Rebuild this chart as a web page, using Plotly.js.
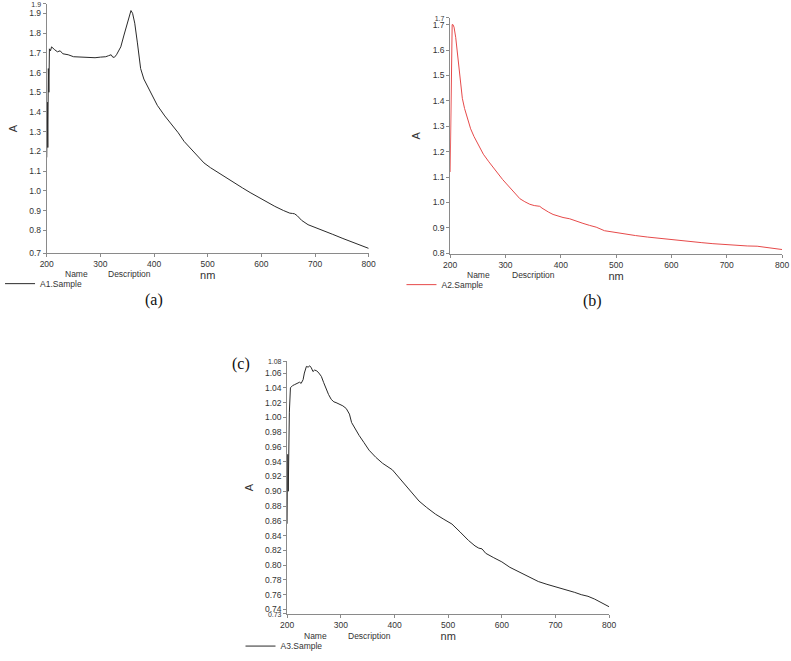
<!DOCTYPE html>
<html>
<head>
<meta charset="utf-8">
<script src="https://cdn.plot.ly/plotly-3.0.1.min.js"></script>
<style>html,body{margin:0;padding:0;background:#fff}#chart{width:791px;height:661px}</style>
</head>
<body>
<div id="chart"></div>
<script>
// ---- Data ----
const xTicks = [200, 300, 400, 500, 600, 700, 800];

// (a) A1.Sample
const aNm = [200,201,202,203,204,205,207,209,212,215,220,225,230,240,250,260,270,280,290,300,310,315,320,323,326,330,335,338,344,350,354,357,360,364,369,372,375,381,394,406,420,431,445,456,465,474,483,493,505,517,530,548,565,579,595,610,625,641,653,658,662,667,675,687,700,715,733,752,770,785,800];
const aAbs = [1.17,1.45,1.22,1.62,1.50,1.72,1.71,1.73,1.72,1.715,1.705,1.71,1.695,1.69,1.68,1.678,1.677,1.676,1.675,1.678,1.680,1.685,1.69,1.678,1.677,1.69,1.72,1.73,1.79,1.85,1.89,1.914,1.90,1.85,1.75,1.67,1.62,1.567,1.50,1.434,1.38,1.343,1.295,1.251,1.225,1.20,1.17,1.142,1.118,1.097,1.073,1.042,1.015,0.992,0.967,0.946,0.922,0.901,0.8875,0.886,0.884,0.874,0.851,0.829,0.816,0.801,0.78,0.759,0.739,0.724,0.709];
const aTickVals = [0.685,0.8,0.9,1.0,1.1,1.2,1.3,1.4,1.5,1.6,1.7,1.8,1.9,1.9475];
const aTickText = ['0.7','0.8','0.9','1.0','1.1','1.2','1.3','1.4','1.5','1.6','1.7','1.8','1.9','1.9'];

// (b) A2.Sample
const bNm = [200,201,202,203,203.6,205,207,210,213,217,222,226,231,237,243,250,260,270,284,295,302,315,326,335,344,352,358,362,366,371,378,386,395,404,416,428,440,452,464,479,497,515,535,557,577,597,616,635,655,675,694,715,737,755,766,780,790,800];
const bAbs = [1.12,1.37,1.30,1.60,1.70,1.70,1.69,1.65,1.59,1.50,1.41,1.37,1.33,1.29,1.26,1.23,1.19,1.16,1.119,1.09,1.073,1.04,1.015,1.003,0.993,0.988,0.987,0.985,0.978,0.970,0.962,0.953,0.946,0.941,0.936,0.926,0.918,0.910,0.903,0.889,0.882,0.877,0.870,0.864,0.859,0.854,0.849,0.846,0.842,0.838,0.8345,0.831,0.829,0.828,0.825,0.821,0.818,0.815];
const bTickVals = [0.8,0.9,1.0,1.1,1.2,1.3,1.4,1.5,1.6,1.7,1.727];
const bTickText = ['0.8','0.9','1.0','1.1','1.2','1.3','1.4','1.5','1.6','1.7','1.7'];

// (c) A3.Sample
const cNm = [200,201,202,203,204,206,210,214,218,223,226,229.6,232,235.8,239,242,245,248,251,255,259,263.6,268,272.8,277,282,287,291,297,303.7,310,316,320,327,334,343,352.5,365,377.8,396,414.8,430,445.7,460,476.5,492,507,522,538,550,557,563,570,585,600,615,631,650,668,684,698.7,717,735.8,748,760.5,773,785,793,800];
const cAbs = [0.856,0.95,0.90,0.99,1.007,1.04,1.043,1.0444,1.046,1.0476,1.046,1.051,1.060,1.069,1.068,1.0698,1.067,1.062,1.064,1.063,1.060,1.0555,1.047,1.0378,1.031,1.0244,1.021,1.020,1.018,1.0156,1.012,1.0044,0.993,0.984,0.9756,0.966,0.9556,0.946,0.9378,0.929,0.9133,0.900,0.8867,0.878,0.8689,0.862,0.8556,0.845,0.8333,0.826,0.823,0.822,0.816,0.810,0.8044,0.797,0.7911,0.784,0.7778,0.774,0.7711,0.767,0.7631,0.760,0.7578,0.754,0.7489,0.746,0.7436];
const cTickVals = [0.734,0.74,0.76,0.78,0.80,0.82,0.84,0.86,0.88,0.90,0.92,0.94,0.96,0.98,1.00,1.02,1.04,1.06,1.0757];
const cTickText = ['0.73','0.74','0.76','0.78','0.80','0.82','0.84','0.86','0.88','0.90','0.92','0.94','0.96','0.98','1.00','1.02','1.04','1.06','1.08'];

// ---- Layout helpers ----
const W = 791, H = 661;
const px = v => v / W;
const py = v => 1 - v / H;
const FONT = 'Liberation Sans, Arial, sans-serif';
const tickFont = {family: FONT, size: 8.5, color: '#333'};
// the extra range-end labels of the instrument plots are drawn a little smaller
const small = t => '<span style="font-size:7px">' + t + '</span>';

function xAx(l, r, anchor) {
  return {domain: [px(l), px(r)], range: [200, 800], anchor: anchor,
    tickmode: 'array', tickvals: xTicks, ticktext: xTicks.map(String),
    showline: true, linecolor: '#8a8a8a', linewidth: 1, ticks: 'outside', ticklen: 3,
    tickcolor: '#8a8a8a', showgrid: false, zeroline: false, tickfont: tickFont,
    title: {text: 'nm', font: {family: FONT, size: 11, color: '#333'}, standoff: 0}};
}
function yAx(top, bot, range, vals, text, anchor, smallIdx) {
  const tt = text.map((t, i) => smallIdx.includes(i) ? small(t) : t);
  return {domain: [py(bot), py(top)], range: range, anchor: anchor,
    tickmode: 'array', tickvals: vals, ticktext: tt,
    showline: true, linecolor: '#8a8a8a', linewidth: 1, ticks: 'outside', ticklen: 3,
    tickcolor: '#8a8a8a', showgrid: false, zeroline: false, tickfont: tickFont,
    title: {text: 'A', font: {family: FONT, size: 11, color: '#333'}, standoff: 9}};
}

const traces = [
  {x: aNm, y: aAbs, type: 'scatter', mode: 'lines', name: 'A1.Sample', xaxis: 'x', yaxis: 'y',
   line: {color: '#2a2a2a', width: 1}, legend: 'legend'},
  {x: bNm, y: bAbs, type: 'scatter', mode: 'lines', name: 'A2.Sample', xaxis: 'x2', yaxis: 'y2',
   line: {color: '#e64a4a', width: 1}, legend: 'legend2'},
  {x: cNm, y: cAbs, type: 'scatter', mode: 'lines', name: 'A3.Sample', xaxis: 'x3', yaxis: 'y3',
   line: {color: '#2a2a2a', width: 1}, legend: 'legend3'}
];

function leg(x, y) {
  return {x: px(x), y: py(y), xanchor: 'left', yanchor: 'middle', bgcolor: 'rgba(0,0,0,0)',
    font: {family: FONT, size: 8.5, color: '#333'}, itemwidth: 30, tracegroupgap: 0};
}
function hdr(x, y, t) {
  return {xref: 'paper', yref: 'paper', x: px(x), y: py(y), xanchor: 'left', yanchor: 'middle',
    text: t, showarrow: false, font: {family: FONT, size: 8.5, color: '#333'}};
}
function panel(x, y, t) {
  return {xref: 'paper', yref: 'paper', x: px(x), y: py(y), xanchor: 'center', yanchor: 'middle',
    text: t, showarrow: false, font: {family: 'Liberation Serif, Times New Roman, serif', size: 16, color: '#111'}};
}

const layout = {
  width: W, height: H, margin: {l: 0, r: 0, t: 0, b: 0},
  paper_bgcolor: '#fff', plot_bgcolor: 'rgba(0,0,0,0)', showlegend: true,
  xaxis: xAx(42, 366, 'y'),
  yaxis: yAx(4, 257, [0.685, 1.9475], aTickVals, aTickText, 'x', [13]),
  xaxis2: xAx(448, 782, 'y2'),
  yaxis2: yAx(18, 258, [0.797, 1.727], bTickVals, bTickText, 'x2', [10]),
  xaxis3: xAx(284, 608, 'y3'),
  yaxis3: yAx(367, 623.3, [0.734, 1.0757], cTickVals, cTickText, 'x3', [0, 18]),
  legend: leg(-5, 288),
  legend2: leg(399, 289),
  legend3: leg(237, 656),
  annotations: [
    hdr(58, 278, 'Name'), hdr(102, 278, 'Description'),
    hdr(463, 279, 'Name'), hdr(508, 279, 'Description'),
    hdr(299, 646, 'Name'), hdr(343, 646, 'Description'),
    panel(150, 305, '(a)'), panel(591, 306, '(b)'), panel(238, 370, '(c)')
  ]
};

Plotly.newPlot('chart', traces, layout, {displayModeBar: false, staticPlot: true});
</script>
</body>
</html>
